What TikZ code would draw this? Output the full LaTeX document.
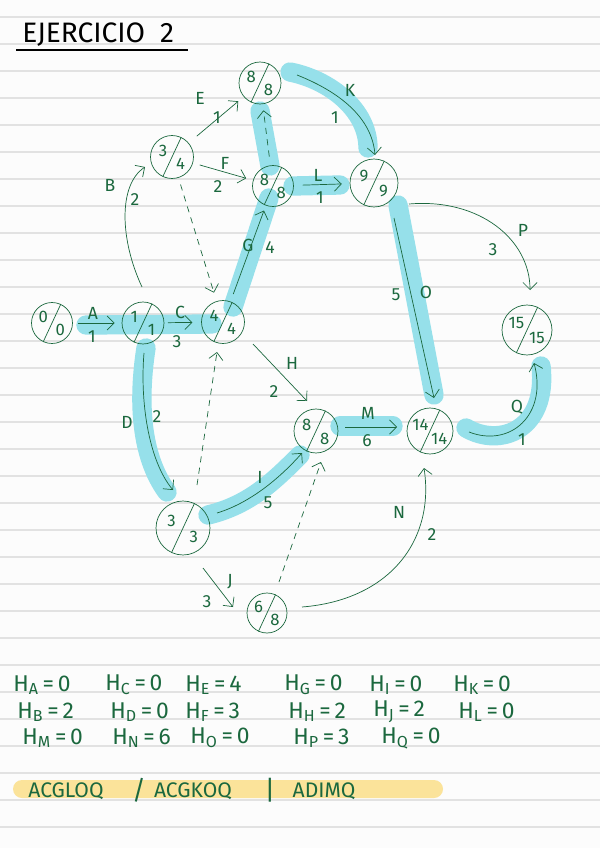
\documentclass[tikz,border=0pt]{standalone}
\usepackage{fontspec}
\setmainfont{Fira Sans}
\usetikzlibrary{arrows.meta}

\definecolor{tinta}{RGB}{27,104,62}
\definecolor{cian}{RGB}{150,224,234}
\definecolor{amarillo}{RGB}{251,227,154}
\definecolor{renglon}{RGB}{226,226,226}
\definecolor{papel}{RGB}{252,252,252}

\pgfdeclarelayer{hoja}
\pgfdeclarelayer{fondo}
\pgfsetlayers{hoja,fondo,main}

\begin{document}
\begin{tikzpicture}[x=0.02cm, y=-0.02cm, line width=1pt,
    >={Straight Barb[length=4pt,width=8pt]},
    suceso/.style={circle, draw=tinta, inner sep=0pt},
    num/.style={text=tinta, font=\fontsize{9.5}{9.5}\selectfont, inner sep=0pt},
    etiq/.style={text=tinta, font=\fontsize{10}{10}\selectfont, inner sep=0pt},
    holgura/.style={text=tinta, font=\fontsize{13}{13}\selectfont, inner sep=0pt, anchor=west},
    flecha/.style={->, draw=tinta},
    ficticia/.style={->, draw=tinta, dash pattern=on 3.5pt off 3pt},
    resalto/.style={draw=cian, line width=11pt, line cap=round}]

    \useasboundingbox (0,0) rectangle (600,848);

    % --- Hoja de cuaderno ---
    \begin{pgfonlayer}{hoja}
        \fill[papel] (0,0) rectangle (600,848);
        \foreach \k in {0,...,30}
            \draw[renglon, line width=0.8pt] (0,17+27*\k) -- (600,17+27*\k);
    \end{pgfonlayer}

    % --- Titulo ---
    \node[anchor=west, inner sep=0pt, font=\fontsize{16}{16}\selectfont] (titulo) at (22,35) {EJERCICIO\ \ 2};
    \draw[line width=1.2pt] (16,50) -- (188,50);

    % --- Sucesos (nombre/x/y/radio/temprano/tardio) ---
    \foreach \nm/\x/\y/\r/\ta/\tb in {
        e0/52/323/20.5/0/0,
        e1/143/323/21/1/1,
        e4/223/322/21.5/4/4,
        eB/172/157/21.5/3/4,
        e8a/260/83/21/8/8,
        e8b/273/186/20.5/8/8,
        e9/374/183/24/9/9,
        e15/527/330/25/15/15,
        e14/430/431/23/14/14,
        e8c/316/431/22/8/8,
        e3/183/528/27/3/3,
        e6/267/613/20/6/8
    } {
        \node[suceso, minimum size=\r*0.04cm] (\nm) at (\x,\y) {};
        \draw[tinta] (\nm.245) -- (\nm.65);
        \node[num] (\nm-t) at ([shift={(-\r*0.42,-\r*0.28)}]\nm.center) {\ta};
        \node[num] (\nm-b) at ([shift={(\r*0.4,\r*0.34)}]\nm.center) {\tb};
    }

    % --- Camino critico (resaltado) ---
    \begin{pgfonlayer}{fondo}
        \draw[resalto] ([shift={(34,2)}]e0.center) -- ([shift={(-11,2)}]e4.center);
        \draw[resalto] ([shift={(10,-15)}]e4.center) -- ([shift={(-4,12)}]e8b.center);
        \draw[resalto] ([shift={(-3,-20)}]e8b.center) -- ([shift={(0,28)}]e8a.center);
        \draw[resalto] ([shift={(30,-11)}]e8a.center) .. controls (330,80) and (368,110) .. ([shift={(-6,-35)}]e9.center);
        \draw[resalto] ([shift={(20,0)}]e8b.center) -- ([shift={(-34,2)}]e9.center);
        \draw[resalto] ([shift={(24,22)}]e9.center) -- ([shift={(4,-36)}]e14.center);
        \draw[resalto] ([shift={(24,-5)}]e8c.center) -- ([shift={(-37,-5)}]e14.center);
        \draw[resalto] ([shift={(36,-3)}]e14.center) .. controls (500,448) and (548,430) .. ([shift={(14,36)}]e15.center);
        \draw[resalto] ([shift={(3,25)}]e1.center) .. controls (138,400) and (140,455) .. ([shift={(-16,-36)}]e3.center);
        \draw[resalto] ([shift={(25,-13)}]e3.center) .. controls (250,505) and (275,480) .. ([shift={(-16,24)}]e8c.center);
    \end{pgfonlayer}

    % --- Actividades ---
    \draw[flecha, shorten <=3pt, shorten >=4pt] (e0) -- (e1);
    \draw[flecha, shorten <=2pt, shorten >=5pt] (e1) -- (e4);
    \draw[flecha] ([shift={(-1,-36)}]e1.center) .. controls (120,240) and (118,185) .. ([shift={(-27,10)}]eB.center);
    \draw[flecha, shorten <=6pt, shorten >=4pt] (eB) -- (e8a);
    \draw[flecha, shorten <=4pt, shorten >=4pt] (eB) -- (e8b);
    \draw[flecha, shorten <=4.5pt, shorten >=3pt] (e4) -- (e8b);
    \draw[flecha] ([shift={(37,-8)}]e8a.center) .. controls (340,92) and (372,118) .. ([shift={(1,-28)}]e9.center);
    \draw[flecha, shorten <=5pt, shorten >=4.5pt] (e8b) -- (e9);
    \draw[flecha] ([shift={(20,35)}]e9.center) -- ([shift={(4,-33)}]e14.center);
    \draw[flecha] ([shift={(35,21)}]e9.center) .. controls (480,198) and (530,240) .. ([shift={(3,-40)}]e15.center);
    \draw[flecha] ([shift={(30,22)}]e4.center) -- ([shift={(-9,-30)}]e8c.center);
    \draw[flecha] ([shift={(1,30)}]e1.center) .. controls (140,400) and (148,460) .. ([shift={(-10,-38)}]e3.center);
    \draw[flecha] ([shift={(34,-15)}]e3.center) .. controls (250,503) and (280,478) .. ([shift={(-14,22)}]e8c.center);
    \draw[flecha] ([shift={(29,-4)}]e8c.center) -- ([shift={(-33,-4)}]e14.center);
    \draw[flecha] ([shift={(39,1)}]e14.center) .. controls (510,448) and (548,415) .. ([shift={(7,33)}]e15.center);
    \draw[flecha] ([shift={(20,40)}]e3.center) -- ([shift={(-34,-6)}]e6.center);
    \draw[flecha] ([shift={(35,-6)}]e6.center) .. controls (390,600) and (435,540) .. ([shift={(-6,37)}]e14.center);

    % --- Ficticias ---
    \draw[ficticia, shorten <=4pt, shorten >=5pt] (eB) -- (e4);
    \draw[ficticia, shorten <=5pt, shorten >=3.5pt] (e8b) -- (e8a);
    \draw[ficticia] ([shift={(14,-43)}]e3.center) -- ([shift={(-6,30)}]e4.center);
    \draw[ficticia] ([shift={(12,-31)}]e6.center) -- ([shift={(5,31)}]e8c.center);

    % --- Nombres y duraciones ---
    \foreach \nm/\x/\y/\t in {
        lA/93/313/A, dA/92/337/1,
        lC/180/312/C, dC/177/342/3,
        lB/110/185/B, dB/135/200/2,
        lE/200/98/E, dE/217/118/1,
        lF/225/163/F, dF/218/187/2,
        lG/248/245/G, dG/270/248/4,
        lK/350/90/K, dK/335/118/1,
        lL/318/175/L, dL/320/198/1,
        lO/426/292/O, dO/396/295/5,
        lP/523/230/P, dP/493/250/3,
        lH/292/363/H, dH/274/392/2,
        lD/127/422/D, dD/157/417/2,
        lI/260/477/I, dI/268/503/5,
        lM/368/413/M, dM/367/441/6,
        lQ/517/407/Q, dQ/522/440/1,
        lJ/230/582/J, dJ/207/602/3,
        lN/399/512/N, dN/432/535/2
    } {
        \node[etiq] (\nm) at (\x,\y) {\t};
    }

    % --- Holguras ---
    \foreach \a/\x/\y/\v in {
        A/13/685/0, C/105/685/0, E/185/685/4, G/284/685/0, I/369/685/0, K/453/685/0,
        B/17/712/2, D/110/712/0, F/185/712/3, H/288/712/2, J/373/712/2, L/458/712/0,
        M/22/738/0, N/112/738/6, O/190/738/0, P/293/738/3, Q/381/738/0
    } {
        \node[holgura] (h\a) at (\x,\y) {H\textsubscript{\a}\,=\,\v};
    }

    % --- Caminos criticos ---
    \fill[amarillo, rounded corners=9*0.02cm] (13,780) rectangle (443,798);
    \node[etiq, font=\fontsize{12}{12}\selectfont] (c1) at (66,791) {ACGLOQ};
    \node[etiq, font=\fontsize{15}{15}\selectfont] (s1) at (139,790) {/};
    \node[etiq, font=\fontsize{12}{12}\selectfont] (c2) at (193,791) {ACGKOQ};
    \node[etiq, font=\fontsize{15}{15}\selectfont] (s2) at (270,790) {|};
    \node[etiq, font=\fontsize{12}{12}\selectfont] (c3) at (324,791) {ADIMQ};

\end{tikzpicture}
\end{document}
